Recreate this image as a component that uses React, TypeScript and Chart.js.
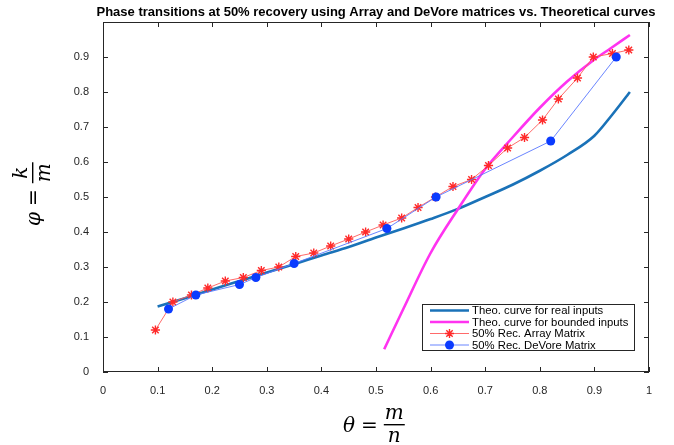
import React, { useEffect, useRef } from "react";
import { Chart, registerables } from "chart.js";

Chart.register(...registerables);

const TITLE = "Phase transitions at 50% recovery using Array and DeVore matrices vs. Theoretical curves";
const LEGEND_LABELS = [
  "Theo. curve for real inputs",
  "Theo. curve for bounded inputs",
  "50% Rec. Array Matrix",
  "50% Rec. DeVore Matrix",
];

const realX = [0.1, 0.15, 0.2, 0.25, 0.3, 0.35, 0.4, 0.45, 0.5, 0.55, 0.6, 0.65, 0.7, 0.75, 0.8, 0.85, 0.9, 0.93, 0.965];
const realY = [0.187, 0.211, 0.236, 0.26, 0.284, 0.308, 0.333, 0.357, 0.384, 0.41, 0.437, 0.466, 0.5, 0.535, 0.575, 0.62, 0.675, 0.73, 0.8];

const boundX = [0.515, 0.55, 0.6, 0.65, 0.7, 0.75, 0.8, 0.85, 0.9, 0.93, 0.965];
const boundY = [0.065, 0.18, 0.34, 0.465, 0.58, 0.67, 0.755, 0.83, 0.893, 0.925, 0.963];

const arrayX = [0.096, 0.128, 0.162, 0.192, 0.224, 0.257, 0.29, 0.322, 0.353, 0.386, 0.417, 0.45, 0.481, 0.513, 0.547, 0.577, 0.609, 0.641, 0.675, 0.706, 0.741, 0.772, 0.805, 0.834, 0.869, 0.898, 0.933, 0.963];
const arrayY = [0.12, 0.2, 0.22, 0.24, 0.26, 0.27, 0.29, 0.3, 0.33, 0.34, 0.36, 0.38, 0.4, 0.42, 0.44, 0.47, 0.5, 0.53, 0.55, 0.59, 0.64, 0.67, 0.72, 0.78, 0.84, 0.9, 0.91, 0.92];

const devoreX = [0.12, 0.17, 0.25, 0.28, 0.35, 0.52, 0.61, 0.82, 0.94];
const devoreY = [0.18, 0.22, 0.25, 0.27, 0.31, 0.41, 0.5, 0.66, 0.9];

const tickValues = [0, 0.1, 0.2, 0.3, 0.4, 0.5, 0.6, 0.7, 0.8, 0.9, 1];

const pts = (xs: number[], ys: number[]) => xs.map((x, i) => ({ x, y: ys[i] }));

const C_REAL = "#1a72b8";
const C_BOUND = "#ff33f0";
const C_ARRAY = "#ff2a2a";
const C_ARRAY_LINE = "rgba(255,90,90,0.9)";
const C_DEV = "#0b3bff";
const C_DEV_LINE = "rgba(90,120,255,0.9)";
const AXIS = "#262626";

function drawMath(ctx: CanvasRenderingContext2D, sym: string, num: string, den: string) {
  const f = 'italic 20px "DejaVu Serif"';
  ctx.fillStyle = "#000";
  ctx.textBaseline = "alphabetic";
  ctx.textAlign = "left";
  ctx.font = f;
  let x = 0;
  ctx.fillText(sym, x, 7);
  x += ctx.measureText(sym).width + 6;
  ctx.font = '20px "DejaVu Serif"';
  ctx.fillText("=", x, 7);
  x += ctx.measureText("=").width + 6;
  ctx.font = f;
  const nw = ctx.measureText(num).width;
  const dw = ctx.measureText(den).width;
  const w = Math.max(nw, dw) + 2;
  ctx.fillText(num, x + (w - nw) / 2, -6);
  ctx.fillText(den, x + (w - dw) / 2, 17);
  ctx.fillRect(x, -1, w, 1.4);
}

const decorPlugin = {
  id: "decor",
  beforeDatasetsDraw(chart: any) {
    const ctx = chart.ctx as CanvasRenderingContext2D;
    const { left, right, top, bottom } = chart.chartArea;
    const xs = chart.scales.x;
    const ys = chart.scales.y;
    ctx.save();
    ctx.strokeStyle = AXIS;
    ctx.lineWidth = 1;
    ctx.strokeRect(left + 0.5, top + 0.5, right - left - 1, bottom - top - 1);
    const tl = 5;
    ctx.beginPath();
    for (const v of tickValues) {
      const px = Math.round(xs.getPixelForValue(v)) + 0.5;
      ctx.moveTo(px, bottom);
      ctx.lineTo(px, bottom - tl);
      ctx.moveTo(px, top);
      ctx.lineTo(px, top + tl);
      const py = Math.round(ys.getPixelForValue(v)) + 0.5;
      ctx.moveTo(left, py);
      ctx.lineTo(left + tl, py);
      ctx.moveTo(right, py);
      ctx.lineTo(right - tl, py);
    }
    ctx.stroke();
    ctx.restore();
  },
  afterDraw(chart: any) {
    const ctx = chart.ctx as CanvasRenderingContext2D;
    const { left, right } = chart.chartArea;
    ctx.save();
    // title
    ctx.fillStyle = "#000";
    ctx.font = 'bold 13px "Liberation Sans", Arial, sans-serif';
    ctx.textAlign = "center";
    ctx.textBaseline = "middle";
    ctx.fillText(TITLE, (left + right) / 2, 12);

    // legend
    const lx = 422, ly = 304, lw = 212, lh = 46;
    ctx.fillStyle = "#fff";
    ctx.fillRect(lx, ly, lw, lh);
    ctx.strokeStyle = "#262626";
    ctx.lineWidth = 1;
    ctx.strokeRect(lx + 0.5, ly + 0.5, lw, lh);
    const rows = [310.5, 322, 333.5, 345];
    const styles = [
      { c: C_REAL, w: 2.5, m: null },
      { c: C_BOUND, w: 2.5, m: null },
      { c: C_ARRAY_LINE, w: 1, m: "star" },
      { c: C_DEV_LINE, w: 1, m: "circle" },
    ];
    ctx.font = '11.3px "Liberation Sans", Arial, sans-serif';
    ctx.textAlign = "left";
    ctx.textBaseline = "middle";
    rows.forEach((y, i) => {
      const s = styles[i];
      ctx.strokeStyle = s.c;
      ctx.lineWidth = s.w;
      ctx.beginPath();
      ctx.moveTo(430, y);
      ctx.lineTo(469, y);
      ctx.stroke();
      if (s.m === "star") {
        ctx.strokeStyle = C_ARRAY;
        ctx.lineWidth = 1.4;
        ctx.beginPath();
        const r = 4.5;
        for (let k = 0; k < 4; k++) {
          const a = (k * Math.PI) / 4;
          ctx.moveTo(449.5 - r * Math.cos(a), y - r * Math.sin(a));
          ctx.lineTo(449.5 + r * Math.cos(a), y + r * Math.sin(a));
        }
        ctx.stroke();
      } else if (s.m === "circle") {
        ctx.fillStyle = C_DEV;
        ctx.beginPath();
        ctx.arc(449.5, y, 4.5, 0, Math.PI * 2);
        ctx.fill();
      }
      ctx.fillStyle = "#000";
      ctx.fillText(LEGEND_LABELS[i], 472, y + 0.5);
    });

    // axis labels
    ctx.save();
    ctx.translate(343, 425);
    drawMath(ctx, "\u03B8", "m", "n");
    ctx.restore();
    ctx.save();
    ctx.translate(33, 226);
    ctx.rotate(-Math.PI / 2);
    drawMath(ctx, "\u03C6", "k", "m");
    ctx.restore();
    ctx.restore();
  },
};

export default function App() {
  const ref = useRef<HTMLCanvasElement | null>(null);
  useEffect(() => {
    if (!ref.current) return;
    const tickFont = { family: '"Liberation Sans", Arial, sans-serif', size: 11 };
    const chart = new Chart(ref.current, {
      type: "line",
      data: {
        datasets: [
          {
            label: LEGEND_LABELS[0],
            data: pts(realX, realY),
            borderColor: C_REAL,
            borderWidth: 2.6,
            pointRadius: 0,
            cubicInterpolationMode: "monotone",
            fill: false,
            order: 4,
          },
          {
            label: LEGEND_LABELS[1],
            data: pts(boundX, boundY),
            borderColor: C_BOUND,
            borderWidth: 2.6,
            pointRadius: 0,
            cubicInterpolationMode: "monotone",
            fill: false,
            order: 3,
          },
          {
            label: LEGEND_LABELS[2],
            data: pts(arrayX, arrayY),
            borderColor: C_ARRAY_LINE,
            borderWidth: 1,
            pointStyle: "star",
            pointRadius: 4.6,
            pointBorderColor: C_ARRAY,
            pointBackgroundColor: C_ARRAY,
            pointBorderWidth: 1.4,
            tension: 0,
            fill: false,
            order: 2,
          },
          {
            label: LEGEND_LABELS[3],
            data: pts(devoreX, devoreY),
            borderColor: C_DEV_LINE,
            borderWidth: 1,
            pointStyle: "circle",
            pointRadius: 4.5,
            pointBorderWidth: 0,
            pointBackgroundColor: C_DEV,
            pointBorderColor: C_DEV,
            tension: 0,
            fill: false,
            order: 1,
          },
        ],
      },
      options: {
        animation: false,
        responsive: false,
        maintainAspectRatio: false,
        layout: { padding: { top: 22, right: 25, left: 0, bottom: 0 } },
        plugins: { legend: { display: false }, title: { display: false }, tooltip: { enabled: false } },
        scales: {
          x: {
            type: "linear",
            min: 0,
            max: 1,
            grid: { display: false },
            border: { display: false },
            afterBuildTicks: (s: any) => {
              s.ticks = tickValues.map((v) => ({ value: v }));
            },
            afterFit: (s: any) => {
              s.height = 73;
            },
            ticks: {
              font: tickFont,
              color: AXIS,
              padding: 4,
              maxRotation: 0,
              autoSkip: false,
              callback: (v: any) => String(Number(Number(v).toFixed(1))),
            },
          },
          y: {
            type: "linear",
            min: 0,
            max: 1,
            grid: { display: false },
            border: { display: false },
            afterBuildTicks: (s: any) => {
              s.ticks = tickValues.map((v) => ({ value: v }));
            },
            afterFit: (s: any) => {
              s.width = 103;
            },
            ticks: {
              font: tickFont,
              color: AXIS,
              padding: 6,
              autoSkip: false,
              callback: (v: any) => (Number(v) >= 1 ? "" : String(Number(Number(v).toFixed(1)))),
            },
          },
        },
      },
      plugins: [decorPlugin],
    } as any);
    return () => chart.destroy();
  }, []);
  return (
    <div style={{ position: "fixed", left: 0, top: 0, width: 674, height: 445, background: "#fff" }}>
      <canvas ref={ref} width={674} height={445} style={{ width: 674, height: 445, display: "block" }} />
    </div>
  );
}
